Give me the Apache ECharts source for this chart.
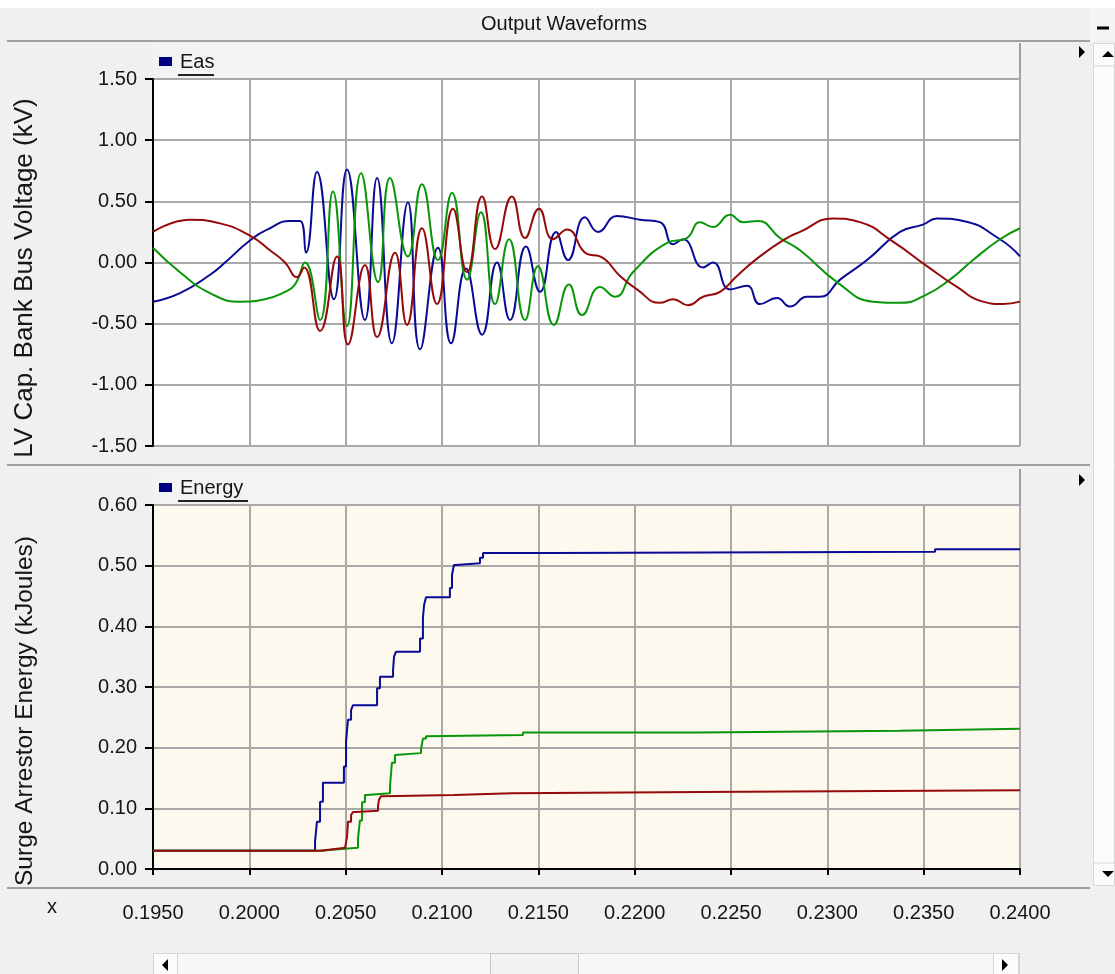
<!DOCTYPE html>
<html><head><meta charset="utf-8">
<script src="https://cdn.jsdelivr.net/npm/echarts@6/dist/echarts.min.js"></script>
<style>html,body{margin:0;padding:0;background:#f0f0f0;overflow:hidden}#c{width:1115px;height:974px}</style>
</head><body><div id="c"></div>
<script>
// ---- Top panel: LV Cap. Bank Bus Voltage (kV) ----
const voltA_t = [0.19500,0.19640,0.19796,0.19874,0.20003,0.20107,0.20211,0.20263,0.20294,0.20351,0.20439,0.20507,0.20600,0.20663,0.20740,0.20823,0.20886,0.20979,0.21047,0.21124,0.21208,0.21285,0.21353,0.21436,0.21509,0.21592,0.21654,0.21742,0.21810,0.21908,0.22028,0.22131,0.22199,0.22251,0.22355,0.22406,0.22495,0.22583,0.22650,0.22739,0.22806,0.22894,0.22962,0.23066,0.23206,0.23377,0.23496,0.23569,0.23704,0.23896,0.24000];
const voltA_v = [-0.32,-0.25,-0.10,0.00,0.18,0.28,0.34,0.34,0.08,0.74,-0.30,0.76,-0.47,0.69,-0.66,0.49,-0.71,0.12,-0.66,-0.05,-0.59,0.00,-0.47,0.13,-0.24,0.25,0.02,0.37,0.25,0.38,0.35,0.33,0.15,0.19,-0.04,0.00,-0.22,-0.19,-0.34,-0.29,-0.36,-0.28,-0.28,-0.14,0.02,0.25,0.31,0.36,0.34,0.19,0.05];

const voltB_t = [0.19500,0.19640,0.19796,0.19952,0.20081,0.20185,0.20237,0.20289,0.20367,0.20434,0.20507,0.20580,0.20668,0.20730,0.20823,0.20896,0.20979,0.21052,0.21130,0.21202,0.21275,0.21348,0.21431,0.21498,0.21581,0.21659,0.21727,0.21820,0.21898,0.21991,0.22168,0.22271,0.22339,0.22406,0.22495,0.22562,0.22640,0.22754,0.22858,0.23050,0.23237,0.23377,0.23517,0.23636,0.23756,0.23896,0.24000];
const voltB_v = [0.12,-0.08,-0.25,-0.32,-0.30,-0.24,-0.18,0.00,-0.47,0.58,-0.52,0.73,-0.16,0.69,0.05,0.64,0.02,0.57,-0.14,0.41,-0.34,0.19,-0.47,-0.03,-0.51,-0.18,-0.43,-0.20,-0.28,-0.08,0.16,0.20,0.33,0.29,0.39,0.33,0.34,0.20,0.10,-0.16,-0.32,-0.33,-0.26,-0.14,0.02,0.19,0.28];

const voltC_t = [0.19500,0.19692,0.19848,0.20003,0.20107,0.20185,0.20247,0.20284,0.20367,0.20455,0.20512,0.20600,0.20663,0.20756,0.20818,0.20896,0.20974,0.21057,0.21130,0.21208,0.21275,0.21363,0.21431,0.21503,0.21576,0.21649,0.21752,0.21820,0.21924,0.22012,0.22131,0.22199,0.22277,0.22355,0.22443,0.22531,0.22650,0.22790,0.22858,0.23029,0.23169,0.23341,0.23517,0.23673,0.23808,0.23912,0.24000];
const voltC_v = [0.25,0.35,0.32,0.22,0.10,0.00,-0.12,-0.04,-0.56,0.05,-0.67,-0.02,-0.61,0.08,-0.51,0.28,-0.34,0.44,-0.08,0.54,0.11,0.54,0.20,0.44,0.19,0.27,0.07,0.05,-0.11,-0.22,-0.33,-0.30,-0.35,-0.28,-0.24,-0.11,0.05,0.20,0.25,0.36,0.33,0.17,-0.03,-0.20,-0.32,-0.34,-0.32];

// ---- Bottom panel: Surge Arrestor Energy (kJoules) ----
const enA_t = [0.19500,0.20341,0.20351,0.20367,0.20382,0.20491,0.20502,0.20512,0.20528,0.20538,0.20663,0.20678,0.20746,0.20751,0.20761,0.20886,0.20901,0.20907,0.20917,0.21041,0.21052,0.21062,0.21073,0.21197,0.21213,0.21576,0.23559,0.24000];
const enA_v = [0.03,0.045,0.078,0.111,0.142,0.169,0.21,0.246,0.262,0.27,0.298,0.317,0.328,0.35,0.358,0.38,0.414,0.435,0.448,0.463,0.485,0.501,0.504,0.513,0.521,0.523,0.527,0.527];

const enB_t = [0.19500,0.20377,0.20445,0.20564,0.20574,0.20585,0.20600,0.20611,0.20730,0.20740,0.20756,0.20766,0.20891,0.20896,0.20901,0.20917,0.20927,0.21420,0.22339,0.23377,0.24000];
const enB_v = [0.03,0.032,0.035,0.05,0.08,0.11,0.122,0.125,0.136,0.175,0.188,0.191,0.197,0.206,0.215,0.219,0.221,0.225,0.228,0.231,0.231];

const enC_t = [0.19500,0.20367,0.20445,0.20497,0.20507,0.20512,0.20528,0.20538,0.20554,0.20668,0.20673,0.20683,0.20694,0.21062,0.21363,0.22339,0.24000];
const enC_v = [0.03,0.033,0.035,0.037,0.053,0.078,0.089,0.094,0.096,0.104,0.114,0.12,0.122,0.125,0.127,0.13,0.13];

// axis definitions
const xMin = 0.195, xMax = 0.240, xStep = 0.005;
const vMin = -1.5, vMax = 1.5, vStep = 0.5;
const eMin = 0, eMax = 0.6, eStep = 0.1;

const titleText = 'Output Waveforms';
const yTitleTop = 'LV Cap. Bank Bus Voltage (kV)';
const yTitleBottom = 'Surge Arrestor Energy (kJoules)';
const legendTop = 'Eas';
const legendBottom = 'Energy';

const BLUE = '#0a0a96', GREEN = '#0a960a', RED = '#960a0a';
const FONT = "'Liberation Sans', Arial, sans-serif";
const GRID = '#a9a9a9', SEP = '#a0a0a0', TXT = '#151515';

const zip = (t, v) => t.map((x, i) => [x, v[i]]);

const chart = echarts.init(document.getElementById('c'), null, {renderer: 'canvas'});

function volt(name, t, v, c) {
  return {name, type: 'line', xAxisIndex: 0, yAxisIndex: 0, data: zip(t, v), showSymbol: false, smooth: 0.5,
    lineStyle: {color: c, width: 2}, itemStyle: {color: c}, emphasis: {disabled: true}};
}
function energy(name, t, v, c) {
  return {name, type: 'line', xAxisIndex: 1, yAxisIndex: 1, data: zip(t, v), showSymbol: false, step: 'end',
    lineStyle: {color: c, width: 2}, itemStyle: {color: c}, emphasis: {disabled: true}};
}

const txt = (x, y, text, size, extra) => Object.assign({type: 'text', x, y, silent: true,
  style: {text, fontSize: size, fontFamily: FONT, fill: TXT, align: 'left', verticalAlign: 'middle'}}, extra || {});
const hline = (x1, x2, y, c, w) => ({type: 'line', silent: true, shape: {x1, y1: y, x2, y2: y}, style: {stroke: c, lineWidth: w}});
const vline = (x, y1, y2, c, w) => ({type: 'line', silent: true, shape: {x1: x, y1, x2: x, y2}, style: {stroke: c, lineWidth: w}});
const rect = (x, y, w, h, fill, stroke) => ({type: 'rect', silent: true, shape: {x, y, width: w, height: h}, style: {fill, stroke: stroke || null, lineWidth: 1}});
const tri = (pts) => ({type: 'polygon', silent: true, shape: {points: pts}, style: {fill: '#000'}});

const graphics = [
  rect(0, 0, 1115, 8, '#ffffff'),
  rect(1090, 8, 25, 33, '#f4f4f4'),
  hline(1097, 1109, 28, '#000', 3),
  txt(564, 24, titleText, 20, {style: {text: titleText, fontSize: 20, fontFamily: FONT, fill: TXT, align: 'center', verticalAlign: 'middle'}}),
  hline(7, 1090, 41, SEP, 2),
  // header bar top
  rect(153, 43, 867, 36, '#f3f3f3'),
  vline(1020, 43, 79, SEP, 2),
  rect(159, 57, 13, 9, '#000080'),
  txt(180, 62, legendTop, 20),
  hline(178, 214, 75, '#222', 2),
  tri([[1079, 46], [1085, 52], [1079, 58]]),
  // separator
  hline(7, 1090, 465, SEP, 2),
  rect(153, 469, 867, 36, '#f3f3f3'),
  vline(1020, 469, 505, SEP, 2),
  rect(159, 483, 13, 9, '#000080'),
  txt(180, 488, legendBottom, 20),
  hline(178, 248, 501, '#222', 2),
  tri([[1079, 474], [1085, 480], [1079, 486]]),
  hline(7, 1090, 888, SEP, 2),
  txt(47, 907, 'x', 20),
  // right scrollbar
  rect(1093.5, 43.5, 21, 842, '#fbfbfb', '#d6d6d6'),
  hline(1093, 1115, 66, '#d6d6d6', 1),
  hline(1093, 1115, 863, '#d6d6d6', 1),
  tri([[1102, 57], [1108, 51], [1114, 57]]),
  tri([[1102, 871], [1114, 871], [1108, 877]]),
  // bottom scrollbar
  rect(153.5, 953.5, 866, 21, '#f7f7f7', '#d6d6d6'),
  rect(153.5, 953.5, 24, 21, '#fbfbfb', '#d6d6d6'),
  rect(993.5, 953.5, 25, 21, '#fbfbfb', '#d6d6d6'),
  rect(490.5, 953.5, 88, 21, '#f2f2f2', '#c8c8c8'),
  tri([[168, 959], [162, 965], [168, 971]]),
  tri([[1002, 959], [1008, 965], [1002, 971]]),
  // y titles
  {type: 'text', x: 25, y: 278, rotation: Math.PI / 2, silent: true,
    style: {text: yTitleTop, fontSize: 26, fontFamily: FONT, fill: TXT, align: 'center', verticalAlign: 'middle'}},
  {type: 'text', x: 25, y: 711, rotation: Math.PI / 2, silent: true,
    style: {text: yTitleBottom, fontSize: 24.5, fontFamily: FONT, fill: TXT, align: 'center', verticalAlign: 'middle'}}
];

const yAxisCommon = {
  type: 'value',
  axisLine: {show: true, lineStyle: {color: '#000', width: 2}},
  axisTick: {show: true, length: 8, lineStyle: {color: '#000', width: 2}},
  splitLine: {show: true, lineStyle: {color: GRID, width: 2}},
  axisLabel: {fontSize: 20, fontFamily: FONT, color: TXT, margin: 16, formatter: v => v.toFixed(2)}
};

const option = {
  animation: false,
  backgroundColor: '#f0f0f0',
  graphic: graphics,
  grid: [
    {left: 153, top: 79, width: 867, height: 367, show: true, backgroundColor: '#ffffff', borderWidth: 0, containLabel: false},
    {left: 153, top: 505, width: 867, height: 364, show: true, backgroundColor: '#fdf9ef', borderWidth: 0, containLabel: false}
  ],
  xAxis: [
    {type: 'value', gridIndex: 0, min: xMin, max: xMax, interval: xStep,
      axisLine: {show: false}, axisTick: {show: false}, axisLabel: {show: false},
      splitLine: {show: true, lineStyle: {color: GRID, width: 2}}},
    {type: 'value', gridIndex: 1, min: xMin, max: xMax, interval: xStep, offset: 23,
      axisLine: {show: true, lineStyle: {color: '#000', width: 2}},
      axisTick: {show: true, length: 6, lineStyle: {color: '#000', width: 2}},
      axisLabel: {fontSize: 20, fontFamily: FONT, color: TXT, margin: 11, formatter: v => v.toFixed(4)},
      splitLine: {show: true, lineStyle: {color: GRID, width: 2}}}
  ],
  yAxis: [
    Object.assign({}, yAxisCommon, {gridIndex: 0, min: vMin, max: vMax, interval: vStep}),
    Object.assign({}, yAxisCommon, {gridIndex: 1, min: eMin, max: eMax, interval: eStep})
  ],
  series: [
    volt('Eas', voltA_t, voltA_v, BLUE),
    volt('Ebs', voltB_t, voltB_v, GREEN),
    volt('Ecs', voltC_t, voltC_v, RED),
    energy('Energy A', enA_t, enA_v, BLUE),
    energy('Energy B', enB_t, enB_v, GREEN),
    energy('Energy C', enC_t, enC_v, RED)
  ]
};
chart.setOption(option);
</script></body></html>
